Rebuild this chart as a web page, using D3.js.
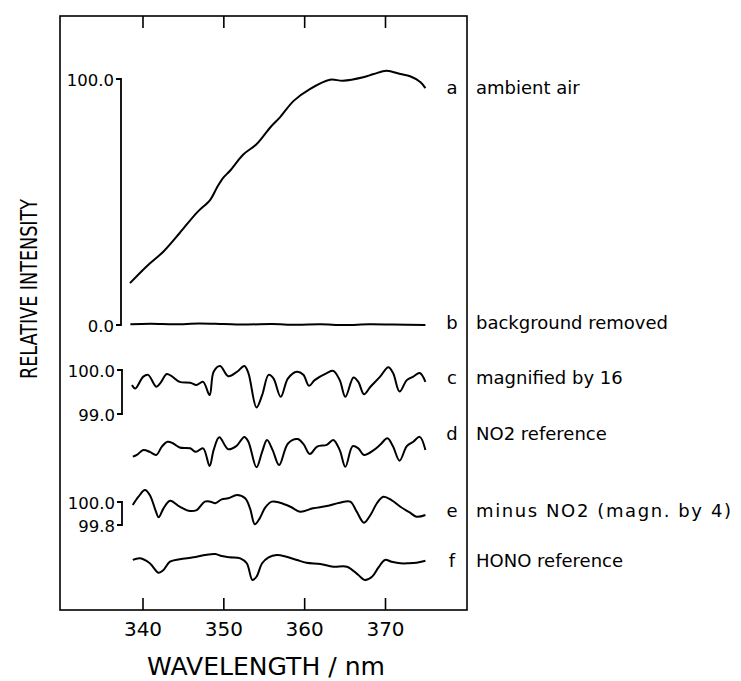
<!DOCTYPE html>
<html><head><meta charset="utf-8">
<script src="https://cdn.jsdelivr.net/npm/d3@7"></script>
<style>
html,body{margin:0;padding:0;background:#fff;}
svg{display:block;}
text{font-family:"DejaVu Sans",sans-serif;fill:#000;}
</style></head>
<body><svg id="chart" width="741" height="681"></svg>
<script>
// ---------- data ----------
const xTicks = [340, 350, 360, 370];
const seriesLetters = ["a", "b", "c", "d", "e", "f"];
const seriesNames = ["ambient air", "background removed", "magnified by 16", "NO2 reference", "minus NO2 (magn. by 4)", "HONO reference"];

// a: ambient air (relative intensity, 0..100 scale)
const aWave = [338.45,340.5,342.6,344.6,346.7,348.4,349.2,350.0,350.8,352.5,354.1,355.8,357.0,358.7,360.7,363.2,364.8,367.3,368.6,370.2,371.9,373.1,374.4,375.0];
const aVal  = [17.0,23.8,29.9,37.4,45.6,51.0,55.8,59.9,62.6,69.4,73.5,80.3,84.4,91.1,95.9,99.7,99.3,100.7,102.0,103.4,102.0,101.1,98.7,96.3];

// b: background removed (same 0..100 scale)
const bWave = [338.5,341,344,347,350,353,356,359,362,365,368,371,375];
const bVal  = [0.3,0.5,0.3,0.6,0.4,0.2,0.4,0.1,0.3,0.0,0.3,0.2,0.0];

// c: magnified by 16 (99.0..100.0 scale)
const cWave = [338.7,339.1,340.1,340.7,341.7,342.2,343.0,343.6,344.6,345.9,346.7,347.5,348.3,348.8,349.6,350.6,351.7,352.6,353.1,354.1,354.8,355.6,356.2,357.1,358.0,359.1,359.9,360.6,361.3,362.8,363.6,364.4,365.1,366.1,366.7,367.4,368.2,369.4,370.4,371.0,371.8,372.7,373.5,374.3,375.0];
const cVal  = [99.66,99.58,99.85,99.89,99.62,99.70,99.91,99.86,99.73,99.71,99.66,99.73,99.43,99.96,100.09,99.86,99.96,100.09,99.93,99.15,99.43,99.89,99.81,99.39,99.81,99.96,99.89,99.64,99.77,99.93,99.98,99.77,99.39,99.83,99.73,99.45,99.62,99.85,100.06,99.93,99.51,99.77,99.85,99.93,99.73];

// d: NO2 reference (same scale as c)
const dWave = [338.8,339.3,340.1,340.9,341.7,342.4,343.1,343.8,344.6,345.9,346.6,347.5,348.3,348.8,349.5,350.6,351.6,352.6,353.1,354.1,354.8,355.4,356.1,356.9,358.0,359.2,359.9,360.7,361.6,362.8,363.6,364.4,365.1,366.0,366.7,367.4,368.6,369.4,370.3,371.0,371.8,372.7,373.5,374.3,375.0];
const dVal  = [99.53,99.57,99.68,99.64,99.57,99.76,99.87,99.83,99.74,99.72,99.64,99.72,99.32,99.68,99.97,99.70,99.77,99.98,99.87,99.29,99.64,99.91,99.68,99.34,99.83,99.93,99.82,99.59,99.76,99.80,99.91,99.68,99.30,99.77,99.72,99.57,99.68,99.80,99.95,99.76,99.44,99.77,99.87,99.98,99.68];

// e: minus NO2, magnified by 4 (99.8..100.0 scale)
const eWave = [338.8,339.5,340.3,340.9,341.6,342.0,342.6,343.4,344.6,345.7,346.7,347.7,348.4,349.0,349.8,350.6,351.7,352.7,353.3,353.9,354.5,355.2,356.0,357.0,358.3,359.5,361.1,362.8,364.4,365.7,366.5,367.4,368.2,369.0,369.8,370.8,371.9,373.1,373.9,375.0];
const eVal  = [99.974,100.046,100.104,100.061,99.930,99.867,99.945,100.011,99.959,99.924,99.930,100.003,100.003,99.989,100.023,100.032,100.061,100.032,99.945,99.806,99.858,99.954,100.003,99.994,99.959,99.916,99.945,99.965,99.994,100.003,99.916,99.820,99.887,99.989,100.046,100.017,99.959,99.907,99.872,99.887];

// f: HONO reference (same scale as e)
const fWave = [338.8,339.7,340.9,342.0,342.6,343.4,344.6,346.3,347.7,349.0,349.8,350.8,352.1,352.9,353.6,354.1,354.8,355.6,356.6,357.8,359.1,360.3,362.0,363.6,365.3,366.7,367.5,368.4,369.2,370.0,370.8,371.9,372.9,373.9,375.0];
const fVal  = [99.957,99.971,99.928,99.846,99.870,99.942,99.963,99.980,100.0,100.009,99.991,99.980,99.971,99.928,99.783,99.811,99.928,99.980,100.0,99.985,99.957,99.933,99.922,99.898,99.898,99.826,99.783,99.811,99.893,99.957,99.942,99.928,99.928,99.933,99.950];

// bracket scale labels
const bracketA = ["100.0", "0.0"];
const bracketC = ["100.0", "99.0"];
const bracketE = ["100.0", "99.8"];
const xTitle = "WAVELENGTH / nm";
const yTitle = "RELATIVE INTENSITY";

// ---------- layout ----------
const svg = d3.select("#chart");
const frame = {left: 60, top: 16, right: 467, bottom: 610};
const x = d3.scaleLinear().domain([340, 370]).range([142.5, 385]);

const yA = d3.scaleLinear().domain([0, 100]).range([325, 79]);
const yC = d3.scaleLinear().domain([99, 100]).range([414, 370]);
const yD = d3.scaleLinear().domain([99, 100]).range([480, 436]);
const yE = d3.scaleLinear().domain([99.8, 100]).range([525, 502]);
const yF = d3.scaleLinear().domain([99.8, 100]).range([578, 555]);

// frame
svg.append("rect")
  .attr("x", frame.left).attr("y", frame.top)
  .attr("width", frame.right - frame.left).attr("height", frame.bottom - frame.top)
  .attr("fill", "none").attr("stroke", "#000").attr("stroke-width", 1.6);

// axes (ticks only, inward)
const gTop = svg.append("g").attr("transform", `translate(0,${frame.top})`)
  .call(d3.axisTop(x).tickValues(xTicks).tickSize(-12).tickFormat(""));
const gBot = svg.append("g").attr("transform", `translate(0,${frame.bottom})`)
  .call(d3.axisBottom(x).tickValues(xTicks).tickSize(-12).tickPadding(12).tickFormat(d3.format("d")));
[gTop, gBot].forEach(g => {
  g.select(".domain").remove();
  g.selectAll(".tick line").attr("stroke", "#000").attr("stroke-width", 1.6);
  g.selectAll(".tick text").attr("font-size", 20).attr("font-family", "DejaVu Sans").attr("fill", "#000");
});

// axis titles
svg.append("text").attr("x", 266).attr("y", 675).attr("text-anchor", "middle")
  .attr("font-size", 24).attr("textLength", 238).attr("lengthAdjust", "spacingAndGlyphs").text(xTitle);
svg.append("text").attr("transform", "translate(37,289) rotate(-90)").attr("text-anchor", "middle")
  .attr("font-size", 23).attr("textLength", 180).attr("lengthAdjust", "spacingAndGlyphs").text(yTitle);

// brackets
function bracket(scale, vals, labels, bx) {
  const y0 = scale(vals[0]), y1 = scale(vals[1]);
  svg.append("path")
    .attr("d", `M${bx - 5},${y0} H${bx} V${y1} H${bx - 5}`)
    .attr("fill", "none").attr("stroke", "#000").attr("stroke-width", 1.8);
  labels.forEach((t, i) => {
    svg.append("text").attr("x", bx - 7).attr("y", scale(vals[i])).attr("dy", "0.45em")
      .attr("text-anchor", "end").attr("font-size", 16.5).text(t);
  });
}
bracket(yA, [100, 0], bracketA, 121);
bracket(yC, [100, 99], bracketC, 122);
bracket(yE, [100, 99.8], bracketE, 122);

// curves
const series = [
  {w: aWave, v: aVal, y: yA},
  {w: bWave, v: bVal, y: yA},
  {w: cWave, v: cVal, y: yC},
  {w: dWave, v: dVal, y: yD},
  {w: eWave, v: eVal, y: yE},
  {w: fWave, v: fVal, y: yF}
];
series.forEach(s => {
  const pts = s.w.map((w, i) => [w, s.v[i]]);
  const line = d3.line().x(d => x(d[0])).y(d => s.y(d[1])).curve(d3.curveCatmullRom.alpha(0.5));
  svg.append("path").datum(pts).attr("d", line)
    .attr("fill", "none").attr("stroke", "#000").attr("stroke-width", 2).attr("stroke-linejoin", "round");
});

// labels on the right
const labelY = [88, 323, 378, 434, 511, 561];
seriesLetters.forEach((l, i) => {
  svg.append("text").attr("x", 452).attr("y", labelY[i]).attr("dy", "0.35em")
    .attr("text-anchor", "middle").attr("font-size", 18).text(l);
  const t = svg.append("text").attr("x", 476).attr("y", labelY[i]).attr("dy", "0.35em")
    .attr("font-size", 18).text(seriesNames[i]);
  if (i === 4) t.attr("letter-spacing", 1.6);
});
</script></body></html>
